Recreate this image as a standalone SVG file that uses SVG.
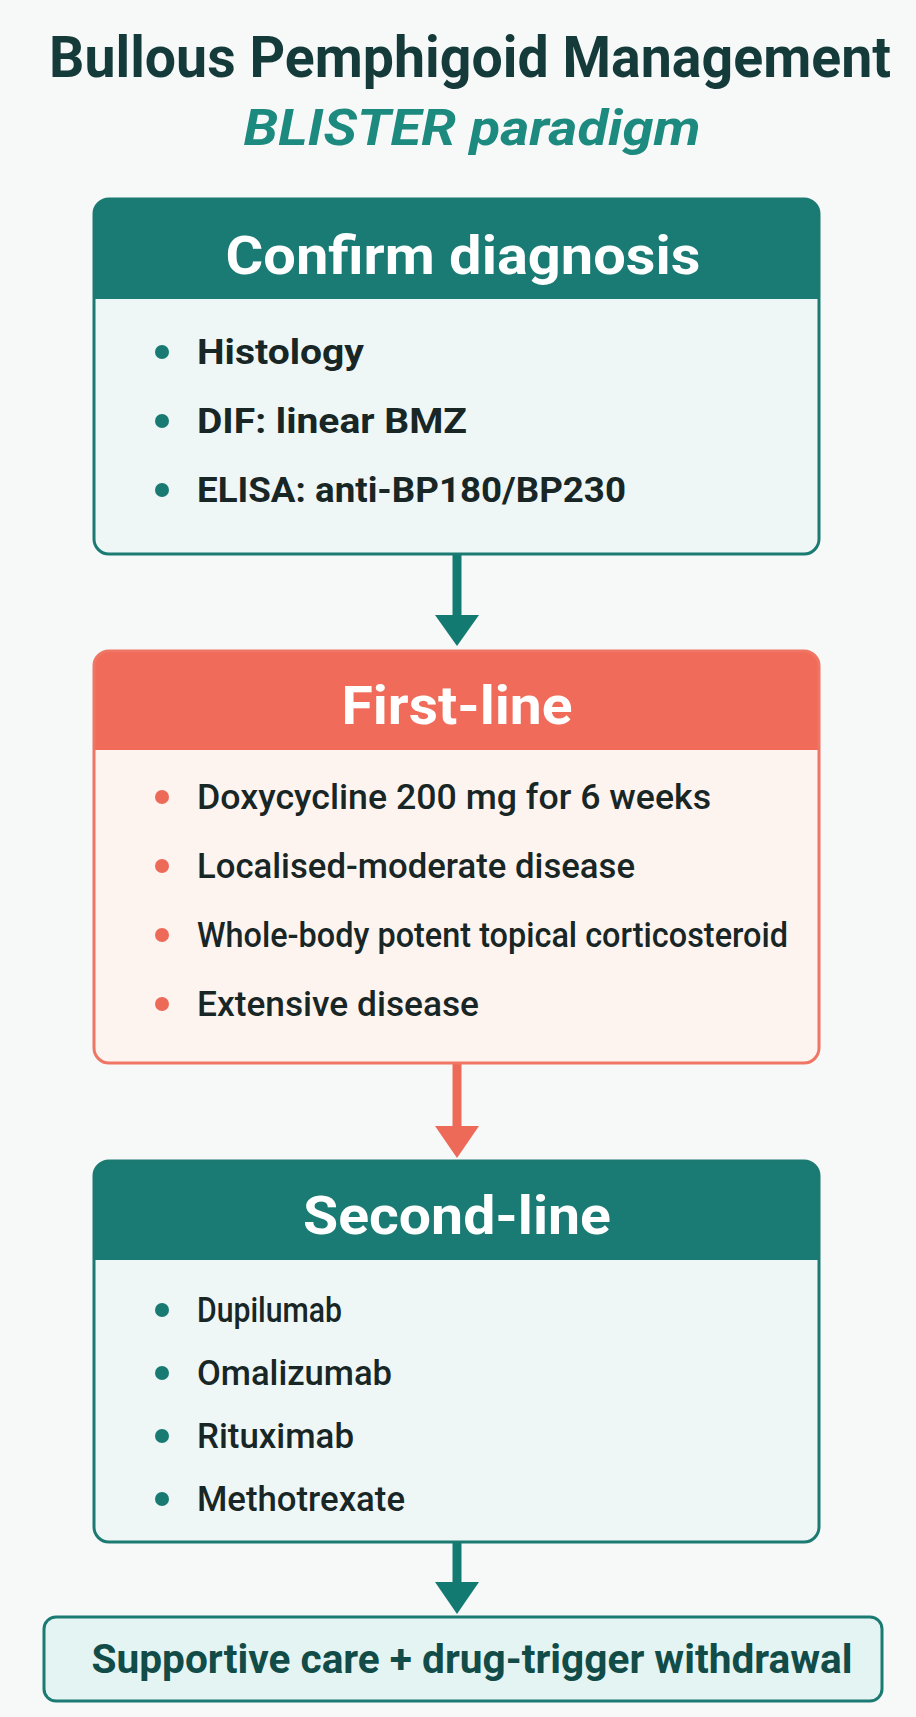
<svg xmlns="http://www.w3.org/2000/svg" width="916" height="1717" viewBox="0 0 916 1717">
<style>
.title{font-family:Roboto,"Liberation Sans",sans-serif;font-weight:700;fill:#153a3a}
.sub{font-family:Roboto,"Liberation Sans",sans-serif;font-weight:700;font-style:italic;fill:#1d8a80}
.hdr{font-family:Roboto,"Liberation Sans",sans-serif;font-weight:700;fill:#ffffff;font-size:54px}
.item{font-family:Roboto,"Liberation Sans",sans-serif;font-weight:500;fill:#182626;font-size:35px}
.item1{font-family:Roboto,"Liberation Sans",sans-serif;font-weight:700;fill:#182626;font-size:35px}
.foot{font-family:Roboto,"Liberation Sans",sans-serif;font-weight:700;fill:#114c48;font-size:41px}
.tdot{fill:#187a72}
.cdot{fill:#ee6a58}
</style>
<defs>
<clipPath id="c1"><rect x="94" y="199" width="725" height="355" rx="15"/></clipPath>
<clipPath id="c2"><rect x="94" y="651" width="725" height="412" rx="15"/></clipPath>
<clipPath id="c3"><rect x="94" y="1161" width="725" height="381" rx="15"/></clipPath>
</defs>
<rect width="916" height="1717" fill="#f7f9f8"/>
<g id="title">
<text class="title" x="470" y="77" font-size="57" text-anchor="middle" textLength="842" lengthAdjust="spacingAndGlyphs">Bullous Pemphigoid Management</text>
<text class="sub" x="472" y="145" font-size="50" text-anchor="middle" textLength="457" lengthAdjust="spacingAndGlyphs">BLISTER paradigm</text>
</g>
<g id="connectors">
<line x1="457" y1="554" x2="457" y2="618" stroke="#137a72" stroke-width="9"/>
<polygon points="435,615 479,615 457,646" fill="#137a72"/>
<line x1="457" y1="1063" x2="457" y2="1128" stroke="#ee6a58" stroke-width="9"/>
<polygon points="435,1126 479,1126 457,1158" fill="#ee6a58"/>
<line x1="457" y1="1542" x2="457" y2="1585" stroke="#137a72" stroke-width="9"/>
<polygon points="435,1582 479,1582 457,1614" fill="#137a72"/>
</g>
<g id="confirm">
<g clip-path="url(#c1)">
<rect x="94" y="199" width="725" height="355" fill="#eef7f6"/>
<rect x="94" y="199" width="725" height="100" fill="#197b73"/>
</g>
<rect x="94" y="199" width="725" height="355" rx="15" fill="none" stroke="#1b7a72" stroke-width="3"/>
<text class="hdr" x="463" y="274" text-anchor="middle" textLength="475" lengthAdjust="spacingAndGlyphs">Confirm diagnosis</text>
<circle class="tdot" cx="162" cy="352" r="7"/>
<text class="item1" x="197" y="364" textLength="167" lengthAdjust="spacingAndGlyphs">Histology</text>
<circle class="tdot" cx="162" cy="421" r="7"/>
<text class="item1" x="197" y="433" textLength="270" lengthAdjust="spacingAndGlyphs">DIF: linear BMZ</text>
<circle class="tdot" cx="162" cy="490" r="7"/>
<text class="item1" x="197" y="502" textLength="429" lengthAdjust="spacingAndGlyphs">ELISA: anti-BP180/BP230</text>
</g>
<g id="firstline">
<g clip-path="url(#c2)">
<rect x="94" y="651" width="725" height="412" fill="#fdf4f0"/>
<rect x="94" y="651" width="725" height="99" fill="#f06b59"/>
</g>
<rect x="94" y="651" width="725" height="412" rx="15" fill="none" stroke="#ef7564" stroke-width="3"/>
<text class="hdr" x="457" y="724" text-anchor="middle" textLength="231" lengthAdjust="spacingAndGlyphs">First-line</text>
<circle class="cdot" cx="162" cy="797" r="7"/>
<text class="item" x="197" y="809" textLength="514" lengthAdjust="spacingAndGlyphs">Doxycycline 200 mg for 6 weeks</text>
<circle class="cdot" cx="162" cy="866" r="7"/>
<text class="item" x="197" y="878" textLength="438" lengthAdjust="spacingAndGlyphs">Localised-moderate disease</text>
<circle class="cdot" cx="162" cy="935" r="7"/>
<text class="item" x="197" y="947" textLength="591" lengthAdjust="spacingAndGlyphs">Whole-body potent topical corticosteroid</text>
<circle class="cdot" cx="162" cy="1004" r="7"/>
<text class="item" x="197" y="1016" textLength="282" lengthAdjust="spacingAndGlyphs">Extensive disease</text>
</g>
<g id="secondline">
<g clip-path="url(#c3)">
<rect x="94" y="1161" width="725" height="381" fill="#eef7f6"/>
<rect x="94" y="1161" width="725" height="99" fill="#197b73"/>
</g>
<rect x="94" y="1161" width="725" height="381" rx="15" fill="none" stroke="#1b7a72" stroke-width="3"/>
<text class="hdr" x="457" y="1234" text-anchor="middle" textLength="308" lengthAdjust="spacingAndGlyphs">Second-line</text>
<circle class="tdot" cx="162" cy="1310" r="7"/>
<text class="item" x="197" y="1322" textLength="145" lengthAdjust="spacingAndGlyphs">Dupilumab</text>
<circle class="tdot" cx="162" cy="1373" r="7"/>
<text class="item" x="197" y="1385" textLength="195" lengthAdjust="spacingAndGlyphs">Omalizumab</text>
<circle class="tdot" cx="162" cy="1436" r="7"/>
<text class="item" x="197" y="1448" textLength="157" lengthAdjust="spacingAndGlyphs">Rituximab</text>
<circle class="tdot" cx="162" cy="1499" r="7"/>
<text class="item" x="197" y="1511" textLength="208" lengthAdjust="spacingAndGlyphs">Methotrexate</text>
</g>
<g id="supportive">
<rect x="44" y="1617" width="838" height="84" rx="12" fill="#e4f4f2" stroke="#1b7a72" stroke-width="3"/>
<text class="foot" x="472" y="1673" text-anchor="middle" textLength="761" lengthAdjust="spacingAndGlyphs">Supportive care + drug-trigger withdrawal</text>
</g>
</svg>
